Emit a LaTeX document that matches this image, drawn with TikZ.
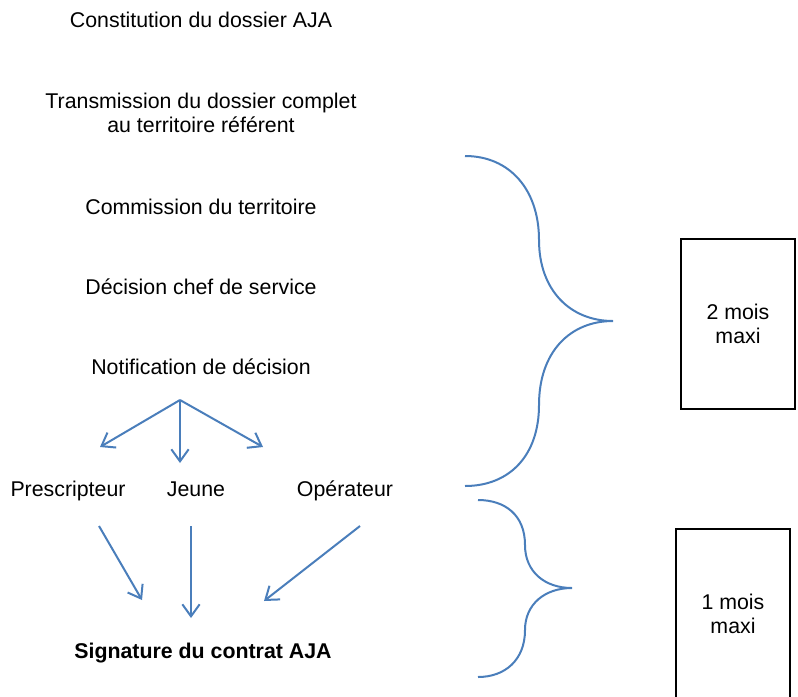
\documentclass[tikz,border=0pt]{standalone}
\usepackage{fontspec}
\setmainfont{Liberation Sans}
\usetikzlibrary{arrows.meta}
\definecolor{bleu}{HTML}{4A7EBB}

\begin{document}
\begin{tikzpicture}[x=0.75pt,y=-0.75pt,
    etape/.style={font=\fontsize{16}{18}\selectfont, align=center},
    destin/.style={etape, text height=11.5pt, text depth=3.5pt},
    fleche/.style={bleu, line width=1.5pt, -{Straight Barb[length=9pt,width=13pt]}},
    accolade/.style={bleu, line width=1.5pt},
    duree/.style={draw, line width=0.8pt, font=\fontsize{16}{18}\selectfont, align=center, inner sep=0pt}]
            \useasboundingbox (0,0) rectangle (798,696);

            %Etapes
            \node[etape] (constit) at (201,20) {Constitution du dossier AJA};
            \node[etape] (transm) at (201,113) {Transmission du dossier complet\\au territoire référent};
            \node[etape] (commis) at (201,207) {Commission du territoire};
            \node[etape] (decis) at (201,287) {Décision chef de service};
            \node[etape] (notif) at (201,367) {Notification de décision};

            %Destinataires
            \node[destin] (prescr) at (68,491) {Prescripteur};
            \node[destin] (jeune) at (196,491) {Jeune};
            \node[destin] (operat) at (345,491) {Opérateur};

            \node[etape, font=\fontsize{16}{18}\selectfont\bfseries] (signat) at (203,653) {Signature du contrat AJA};

            %Fleches de la notification
            \coordinate (fourche) at (180,400);
            \coordinate (versP) at (100,447);
            \coordinate (versJ) at (180,463);
            \coordinate (versO) at (263,447);
            \draw[fleche] (fourche) -- (versP);
            \draw[fleche] (fourche) -- (versJ);
            \draw[fleche] (fourche) -- (versO);

            %Fleches vers la signature
            \coordinate (departP) at (99,526);
            \coordinate (departJ) at (191,526);
            \coordinate (departO) at (360,526);
            \coordinate (arriveeP) at (142,600);
            \coordinate (arriveeJ) at (191,618);
            \coordinate (arriveeO) at (264,601);
            \draw[fleche] (departP) -- (arriveeP);
            \draw[fleche] (departJ) -- (arriveeJ);
            \draw[fleche] (departO) -- (arriveeO);

            %Accolade 2 mois
            \draw[accolade] (465,156) .. controls (510,156) and (539,190) .. (539,240)
                .. controls (539,290) and (570,321) .. (613,321)
                .. controls (570,321) and (539,352) .. (539,405)
                .. controls (539,455) and (510,486) .. (465,486);

            %Accolade 1 mois
            \draw[accolade] (478,500) .. controls (505,500) and (525,515) .. (525,545)
                .. controls (525,572) and (545,588) .. (572,588)
                .. controls (545,588) and (525,604) .. (525,630)
                .. controls (525,660) and (505,677) .. (478,677);

            %Durees
            \node[duree, minimum width=85.5pt, minimum height=127.5pt] (deuxmois) at (738,324) {2 mois\\maxi};
            \draw[line width=0.8pt] (676,700) |- (790,529) -- (790,700);
            \node[etape] (unmois) at (733,614) {1 mois\\maxi};
\end{tikzpicture}
\end{document}
